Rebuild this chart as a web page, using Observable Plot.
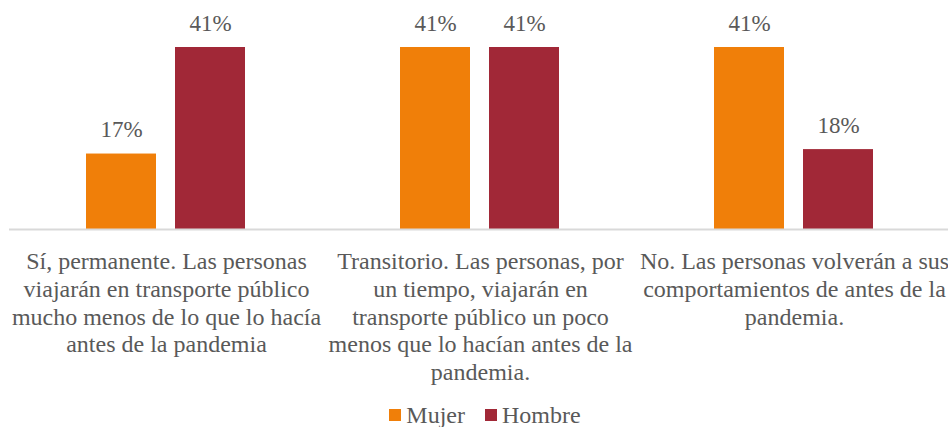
<!DOCTYPE html>
<html>
<head>
<meta charset="utf-8">
<script src="https://cdn.jsdelivr.net/npm/d3@7"></script>
<script src="https://cdn.jsdelivr.net/npm/@observablehq/plot@0.6"></script>
<style>
  html, body { margin: 0; padding: 0; background: #fff; }
  #chart svg { display: block; }
  .legend { display: flex; justify-content: center; align-items: center; height: 24px; line-height: 24px; margin-top: 8px; padding-left: 22px;
    font-family: "Liberation Serif", "DejaVu Serif", serif; font-size: 24px; color: #595959; }
  .legend .item { display: flex; align-items: center; }
  .legend .sw { width: 12px; height: 12px; margin-right: 5px; }
  .legend .item + .item { margin-left: 20px; }
</style>
</head>
<body>
<div id="chart"></div>
<div class="legend" id="legend"></div>
<script>
const categories = [
  "Sí, permanente. Las personas\nviajarán en transporte público\nmucho menos de lo que lo hacía\nantes de la pandemia",
  "Transitorio. Las personas, por\nun tiempo, viajarán en\ntransporte público un poco\nmenos que lo hacían antes de la\npandemia.",
  "No. Las personas volverán a sus\ncomportamientos de antes de la\npandemia."
];
const series = ["Mujer", "Hombre"];
const mujer = [17, 41, 41];
const hombre = [41, 41, 18];
const colors = ["#F07F09", "#A12837"];

const data = [];
categories.forEach((c, i) => {
  data.push({cat: c, serie: "Mujer", value: mujer[i]});
  data.push({cat: c, serie: "Hombre", value: hombre[i]});
});

const chart = Plot.plot({
  width: 948,
  height: 395,
  marginLeft: 9,
  marginRight: -3,
  marginTop: 47,
  marginBottom: 166,
  fx: {domain: categories, padding: 0, label: null},
  x: {domain: series, paddingInner: 0.211, paddingOuter: 0.85, axis: null},
  y: {domain: [0, 41], axis: null},
  color: {domain: series, range: colors},
  style: {fontFamily: "'Liberation Serif', 'DejaVu Serif', serif", background: "#fff", overflow: "visible"},
  marks: [
    Plot.barY(data, {fx: "cat", x: "serie", y: "value", fill: "serie"}),
    Plot.ruleY([0], {stroke: "#d9d9d9", strokeWidth: 2}),
    Plot.text(data, {fx: "cat", x: "serie", y: "value", text: d => d.value + "%", dy: -24, fontSize: 23, fill: "#595959"}),
    Plot.axisFx({anchor: "bottom", tickSize: 0, tickPadding: 0, dy: 20, lineAnchor: "top", fontSize: 24, lineHeight: 1.155, fill: "#595959", label: null})
  ]
});
document.getElementById("chart").appendChild(chart);

const legend = document.getElementById("legend");
series.forEach((s, i) => {
  const item = document.createElement("div");
  item.className = "item";
  const sw = document.createElement("span");
  sw.className = "sw";
  sw.style.background = colors[i];
  const t = document.createElement("span");
  t.textContent = s;
  item.appendChild(sw);
  item.appendChild(t);
  legend.appendChild(item);
});
</script>
</body>
</html>
